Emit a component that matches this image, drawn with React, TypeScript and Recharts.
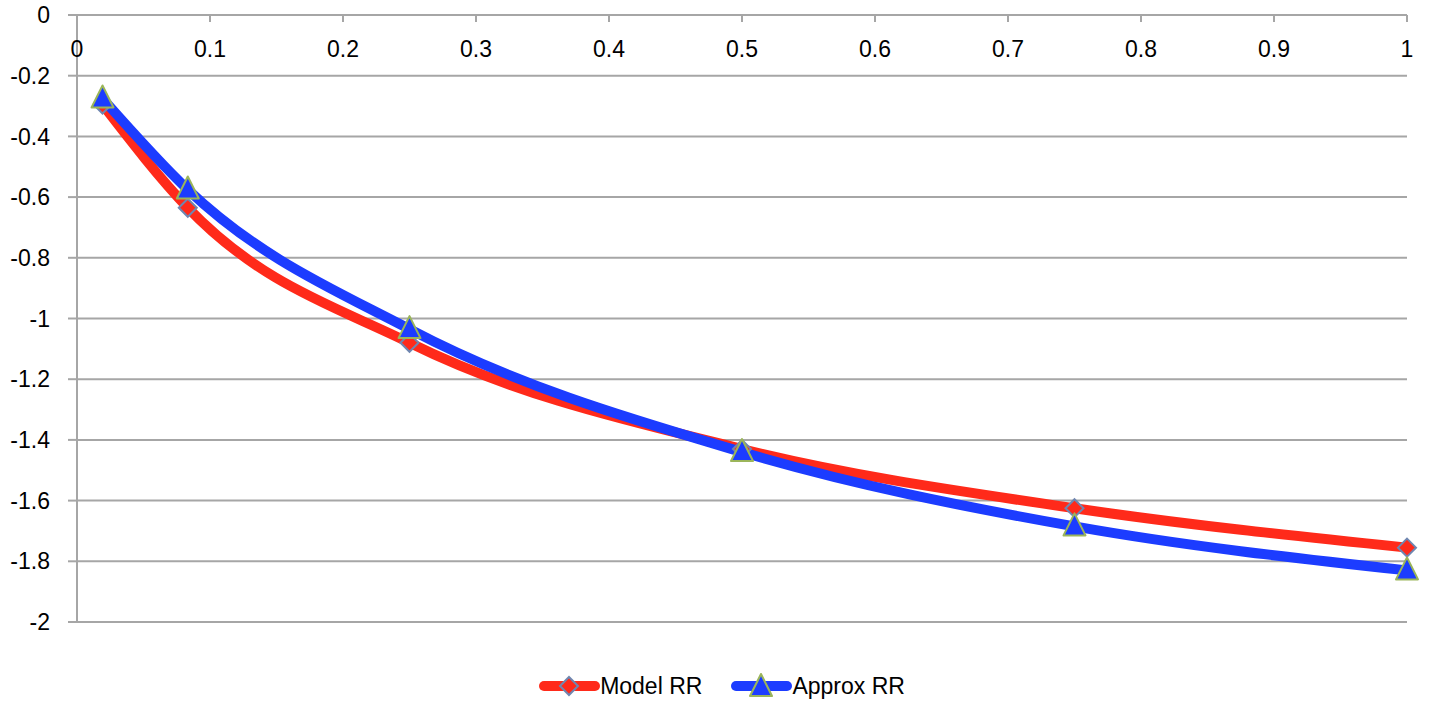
import { CartesianGrid, Legend, Line, LineChart, XAxis, YAxis } from "recharts";

// horizons in years: 1 week, 1 month, 3, 6, 9 months, 1 year
const horizons = [0.0192, 0.0833, 0.25, 0.5, 0.75, 1];
const modelRR = [-0.295, -0.635, -1.08, -1.43, -1.625, -1.755];
const approxRR = [-0.275, -0.575, -1.035, -1.44, -1.685, -1.83];

const xTicks = [0, 0.1, 0.2, 0.3, 0.4, 0.5, 0.6, 0.7, 0.8, 0.9, 1];
const yTicks = [0, -0.2, -0.4, -0.6, -0.8, -1, -1.2, -1.4, -1.6, -1.8, -2];

const data = horizons.map((h, i) => ({ h, model: modelRR[i], approx: approxRR[i] }));

const FONT = '"Liberation Sans", Arial, sans-serif';
const GRID = "#a6a6a6";
const RED = "#ff2a1a";
const BLUE = "#1c3cff";
const DIAMOND_EDGE = "#6f86b0";
const TRIANGLE_EDGE = "#9bb55a";

function Diamond({ cx, cy }: { cx: number; cy: number }) {
  const r = 9;
  return (
    <path
      d={`M${cx},${cy - r} L${cx + r},${cy} L${cx},${cy + r} L${cx - r},${cy} Z`}
      fill={RED}
      stroke={DIAMOND_EDGE}
      strokeWidth={2}
    />
  );
}

function Triangle({ cx, cy }: { cx: number; cy: number }) {
  const w = 11;
  return (
    <path
      d={`M${cx},${cy - 13} L${cx + w},${cy + 9} L${cx - w},${cy + 9} Z`}
      fill={BLUE}
      stroke={TRIANGLE_EDGE}
      strokeWidth={2}
      strokeLinejoin="round"
    />
  );
}

const renderLegend = () => (
  <div
    style={{
      display: "flex",
      justifyContent: "center",
      alignItems: "center",
      height: 30,
      fontFamily: FONT,
      fontSize: 23,
      color: "#000",
      paddingLeft: 14,
    }}
  >
    <svg width={61} height={26}>
      <line x1={5} y1={13} x2={56} y2={13} stroke={RED} strokeWidth={10} strokeLinecap="round" />
      <Diamond cx={30} cy={13} />
    </svg>
    <span>Model RR</span>
    <span style={{ width: 29 }} />
    <svg width={61} height={26}>
      <line x1={5} y1={13} x2={56} y2={13} stroke={BLUE} strokeWidth={10} strokeLinecap="round" />
      <Triangle cx={30} cy={14} />
    </svg>
    <span>Approx RR</span>
  </div>
);

export default function App() {
  return (
    <div style={{ position: "absolute", left: 0, top: 0, width: 1430, height: 703, background: "#fff" }}>
      <LineChart width={1430} height={703} data={data} margin={{ top: 15, right: 23, bottom: 51, left: 0 }}>
        <CartesianGrid vertical={false} stroke={GRID} strokeWidth={2} />
        <XAxis
          dataKey="h"
          type="number"
          domain={[0, 1]}
          ticks={xTicks}
          orientation="top"
          mirror
          axisLine={{ stroke: GRID, strokeWidth: 2 }}
          tickLine={{ stroke: GRID, strokeWidth: 2 }}
          tickSize={7}
          tickMargin={19}
          tick={{ fill: "#000", fontSize: 23, fontFamily: FONT }}
        />
        <YAxis
          type="number"
          domain={[-2, 0]}
          ticks={yTicks}
          width={77}
          axisLine={{ stroke: GRID, strokeWidth: 2 }}
          tickLine={{ stroke: GRID, strokeWidth: 2 }}
          tickSize={9}
          tickMargin={18}
          tick={{ fill: "#000", fontSize: 23, fontFamily: FONT }}
        />
        <Legend
          verticalAlign="bottom"
          content={renderLegend}
          wrapperStyle={{ bottom: 2, left: 0, width: 1430 }}
        />
        <Line
          dataKey="model"
          type="monotone"
          stroke={RED}
          strokeWidth={10}
          dot={(p: any) => <Diamond key={`m${p.index}`} cx={p.cx} cy={p.cy} />}
          activeDot={false}
          isAnimationActive={false}
        />
        <Line
          dataKey="approx"
          type="monotone"
          stroke={BLUE}
          strokeWidth={10}
          dot={(p: any) => <Triangle key={`a${p.index}`} cx={p.cx} cy={p.cy} />}
          activeDot={false}
          isAnimationActive={false}
        />
      </LineChart>
    </div>
  );
}
